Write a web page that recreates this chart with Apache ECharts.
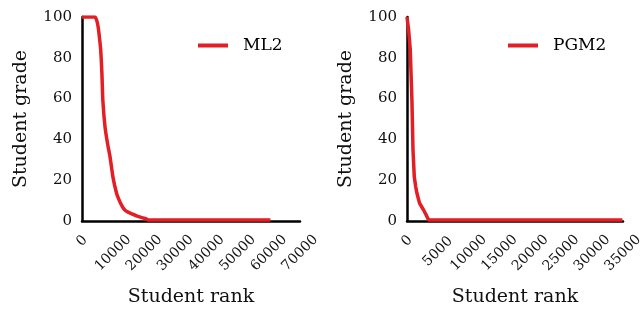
<!DOCTYPE html>
<html>
<head>
<meta charset="utf-8">
<script src="https://cdn.jsdelivr.net/npm/echarts@6/dist/echarts.min.js"></script>
<style>
  html, body { margin: 0; padding: 0; background: #fff; }
  #main { width: 640px; height: 312px; }
</style>
</head>
<body>
<div id="main"></div>
<script>
// ML2 curve (student rank -> student grade)
var mlRank  = [0, 4100, 4700, 5200, 5600, 6000, 6400, 6700, 7400, 8200, 9000, 10000, 11100, 12000, 12700, 13500, 14400, 16000, 17500, 19500, 20500, 21200, 60500];
var mlGrade = [100, 100, 98.5, 95, 90, 84, 72, 59, 46, 38, 31.5, 21, 13.6, 10, 7.8, 5.8, 4.6, 3.5, 2.5, 1.5, 1.2, 0.5, 0.5];

// PGM2 curve
var pgmRank  = [0, 250, 530, 800, 970, 1180, 1400, 1610, 2040, 2690, 3100, 3500, 34900];
var pgmGrade = [100, 94, 84, 59, 35, 21.7, 17, 13.6, 8.7, 5.4, 3, 0.5, 0.5];

var gradeTicks = [0, 20, 40, 60, 80, 100];

function pairs(xs, ys) {
    var out = [];
    for (var i = 0; i < xs.length; ++i) {
        out.push([xs[i], ys[i]]);
    }
    return out;
}

var serif = 'DejaVu Serif';
var red = '#e31e24';
var ink = '#111';

function xAxisFor(grid, max, step) {
    return {
        type: 'value',
        gridIndex: grid,
        min: 0,
        max: max,
        interval: step,
        name: 'Student rank',
        nameLocation: 'middle',
        nameGap: 67,
        nameTextStyle: { fontFamily: serif, fontSize: 19, color: ink },
        splitLine: { show: false },
        axisTick: { show: false },
        axisLine: { lineStyle: { color: '#000', width: 2.5 } },
        axisLabel: {
            rotate: 45,
            align: 'center',
            verticalAlign: 'middle',
            margin: 32,
            fontFamily: serif,
            fontSize: 14,
            color: ink,
            formatter: function (v) {
                var s = String(v);
                return '{l' + s.length + '|' + s + '}';
            },
            rich: {
                l1: { fontFamily: serif, fontSize: 14, color: ink, padding: [0, 0, 17, 17] },
                l4: { fontFamily: serif, fontSize: 14, color: ink, padding: [0, 0, 2, 2] },
                l5: { fontFamily: serif, fontSize: 14, color: ink }
            }
        }
    };
}

function yAxisFor(grid) {
    return {
        type: 'value',
        gridIndex: grid,
        min: gradeTicks[0],
        max: gradeTicks[gradeTicks.length - 1],
        interval: 20,
        name: 'Student grade',
        nameLocation: 'middle',
        nameGap: 51,
        nameTextStyle: { fontFamily: serif, fontSize: 19, color: ink },
        splitLine: { show: false },
        axisTick: { show: false },
        axisLine: { show: true, lineStyle: { color: '#000', width: 2.5 } },
        axisLabel: { fontFamily: serif, fontSize: 15, color: ink, margin: 10 }
    };
}

var mychart = echarts.init(document.getElementById('main'), null, { renderer: 'canvas' });

var option = {
    animation: false,
    grid: [
        { left: 82, top: 17, width: 218, height: 204, containLabel: false, outerBoundsMode: 'none' },
        { left: 407, top: 17, width: 216, height: 204, containLabel: false, outerBoundsMode: 'none' }
    ],
    legend: [
        {
            data: ['ML2'],
            left: 193,
            top: 32,
            icon: 'rect',
            itemWidth: 30,
            itemHeight: 4,
            textStyle: { fontFamily: serif, fontSize: 17, color: '#000', padding: [0, 0, 0, 10] }
        },
        {
            data: ['PGM2'],
            left: 503,
            top: 32,
            icon: 'rect',
            itemWidth: 30,
            itemHeight: 4,
            textStyle: { fontFamily: serif, fontSize: 17, color: '#000', padding: [0, 0, 0, 10] }
        }
    ],
    xAxis: [xAxisFor(0, 70000, 10000), xAxisFor(1, 35000, 5000)],
    yAxis: [yAxisFor(0), yAxisFor(1)],
    series: [
        {
            name: 'ML2',
            type: 'line',
            xAxisIndex: 0,
            yAxisIndex: 0,
            data: pairs(mlRank, mlGrade),
            showSymbol: false,
            smooth: 0.2,
            color: red,
            lineStyle: { color: red, width: 3.5 }
        },
        {
            name: 'PGM2',
            type: 'line',
            xAxisIndex: 1,
            yAxisIndex: 1,
            data: pairs(pgmRank, pgmGrade),
            showSymbol: false,
            color: red,
            lineStyle: { color: red, width: 3.5 }
        }
    ]
};

mychart.setOption(option);
</script>
</body>
</html>
